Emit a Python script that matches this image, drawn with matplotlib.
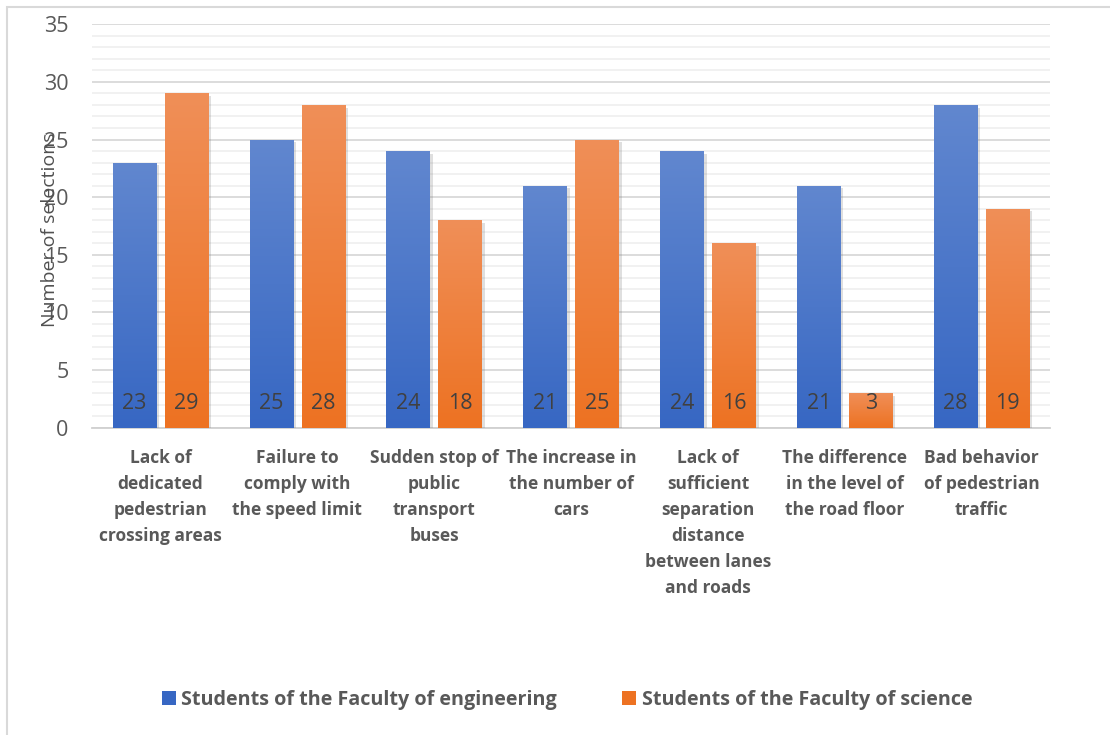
import matplotlib.pyplot as plt
import matplotlib.patheffects as pe
import numpy as np
from matplotlib.colors import LinearSegmentedColormap
from matplotlib.patches import Rectangle

plt.rcParams['font.family'] = ['Open Sans', 'DejaVu Sans']

categories = ["Lack of\ndedicated\npedestrian\ncrossing areas",
              "Failure to\ncomply with\nthe speed limit",
              "Sudden stop of\npublic\ntransport\nbuses",
              "The increase in\nthe number of\ncars",
              "Lack of\nsufficient\nseparation\ndistance\nbetween lanes\nand roads",
              "The difference\nin the level of\nthe road floor",
              "Bad behavior\nof pedestrian\ntraffic"]
engineering = [23, 25, 24, 21, 24, 21, 28]
science = [29, 28, 18, 25, 16, 3, 19]
series_names = ["Students of the Faculty of engineering", "Students of the Faculty of science"]

blue_top, blue_bot = "#6187cf", "#3767c3"
orange_top, orange_bot = "#f08f58", "#ed7222"
txt = "#595959"

fig = plt.figure(figsize=(11.1, 7.35), dpi=100)
ax = fig.add_axes([0.083, 0.418, 0.863, 0.549])

x = np.arange(len(categories))
w = 0.32
off = 0.19


def grad_bars(xs, vals, top, bot):
    cmap = LinearSegmentedColormap.from_list("g", [bot, top])
    grad = np.linspace(0, 1, 256).reshape(-1, 1)
    bars = ax.bar(xs, vals, w, color=bot, zorder=3,
                  path_effects=[pe.SimplePatchShadow(offset=(2, -2), alpha=0.25, shadow_rgbFace="#808080"), pe.Normal()])
    for b in bars:
        bx, by = b.get_x(), b.get_y()
        bw, bh = b.get_width(), b.get_height()
        im = ax.imshow(grad, cmap=cmap, origin="lower", aspect="auto",
                       extent=[bx, bx + bw, by, by + bh], zorder=4, vmin=0, vmax=1)
        im.set_clip_path(b)
    return bars


b1 = grad_bars(x - off, engineering, blue_top, blue_bot)
b2 = grad_bars(x + off, science, orange_top, orange_bot)

for xi, v in zip(x - off, engineering):
    ax.text(xi, 2.1, str(v), ha="center", va="center", fontsize=15.5, color="#404040", zorder=5)
for xi, v in zip(x + off, science):
    ax.text(xi, 2.1, str(v), ha="center", va="center", fontsize=15.5, color="#404040", zorder=5)

ax.set_xlim(-0.5, len(categories) - 0.5)
ax.set_ylim(0, 35)
ax.set_yticks(np.arange(0, 36, 5))
ax.set_yticks(np.arange(0, 36, 1), minor=True)
ax.grid(axis="y", which="major", color="#d9d9d9", linewidth=1.3, zorder=0)
ax.grid(axis="y", which="minor", color="#f0f0f0", linewidth=1.3, zorder=0)
ax.set_axisbelow(True)
for s in ["left", "right", "top"]:
    ax.spines[s].set_visible(False)
ax.spines["bottom"].set_color("#d0d0d0")
ax.spines["bottom"].set_linewidth(1.3)
ax.tick_params(axis="y", which="both", length=0, labelsize=15.5, labelcolor=txt, pad=17)
ax.tick_params(axis="x", length=0, pad=15)
ax.set_xticks(x)
ax.set_xticklabels(categories, fontsize=12.5, fontweight="bold", color=txt, linespacing=1.58)

fig.text(50 / 1110, 1 - 230 / 735, "Number of selections", rotation=90, ha="center", va="center",
         fontsize=14, color="#505050")

handles = [Rectangle((0, 0), 1, 1, facecolor=blue_bot), Rectangle((0, 0), 1, 1, facecolor=orange_bot)]
leg = fig.legend(handles, series_names, loc="center", bbox_to_anchor=(0.511, 0.048), ncol=2,
                 frameon=False, handlelength=0.7, handleheight=0.7, handletextpad=0.3,
                 columnspacing=3.3, prop={"size": 14.2, "weight": "bold"})
for t in leg.get_texts():
    t.set_color(txt)

fig.patches.append(Rectangle((0.006, -0.1), 1.2, 1.09, transform=fig.transFigure,
                             fill=False, edgecolor="#d9d9d9", linewidth=1.5))

fig.savefig("out.png", dpi=100)
